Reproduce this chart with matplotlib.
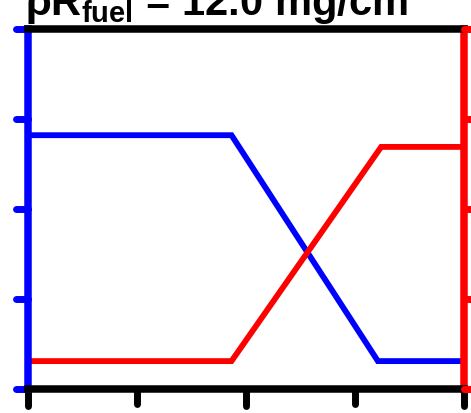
import matplotlib
matplotlib.use("Agg")
import matplotlib.pyplot as plt
from matplotlib.markers import MarkerStyle

plt.rcParams["mathtext.fontset"] = "custom"
plt.rcParams["mathtext.rm"] = "Liberation Sans:bold"
plt.rcParams["mathtext.it"] = "Liberation Sans:bold"
plt.rcParams["mathtext.bf"] = "Liberation Sans:bold"
plt.rcParams["mathtext.sf"] = "Liberation Sans:bold"

# Data
x_blue = [0.0, 1.867, 3.21, 4.0]
y_blue = [2.82, 2.82, 0.31, 0.31]
x_red = [0.0, 1.867, 3.24, 4.0]
y_red = [0.31, 0.31, 2.69, 2.69]
x_ticks_major = [0, 2, 4]
x_ticks_minor = [1, 3]
y_ticks = [0, 1, 2, 3, 4]
title_main = r"$\mathrm{\rho R_{fuel}}$ = 12.0 mg/cm$^\mathrm{2}$"

W, H = 471, 414
fig = plt.figure(figsize=(W / 100, H / 100), dpi=100)
ax = fig.add_axes([28 / W, (H - 390) / H, (464 - 28) / W, (390 - 30) / H])

ax.plot(x_blue, y_blue, color="#0000ff", lw=4.2, solid_joinstyle="miter", zorder=3, clip_on=False)
ax.plot(x_red, y_red, color="#ff0000", lw=4.2, solid_joinstyle="miter", zorder=3, clip_on=False)

ax.set_xlim(0, 4)
ax.set_ylim(0, 4)
ax.set_xticks(x_ticks_major)
ax.set_xticks(x_ticks_minor, minor=True)
ax.set_yticks(y_ticks)
ax.set_xticklabels([])
ax.set_yticklabels([])

sw = 5.4
for s in ["top", "bottom"]:
    ax.spines[s].set_color("black")
    ax.spines[s].set_linewidth(sw)
ax.spines["left"].set_color("#0000ff")
ax.spines["left"].set_linewidth(sw)
ax.spines["right"].set_color("#ff0000")
ax.spines["right"].set_linewidth(sw)
for s in ax.spines.values():
    s.set_capstyle("projecting")
    s.set_zorder(4)

ax.tick_params(axis="x", which="major", direction="out", length=12.5, width=5, color="black")
ax.tick_params(axis="x", which="minor", direction="out", length=10.5, width=5, color="black")
ax.tick_params(axis="y", which="major", direction="out", length=9, width=5, color="#0000ff", right=False)

ax2 = ax.twinx()
ax2.set_ylim(0, 4)
ax2.set_yticks(y_ticks)
ax2.set_yticklabels([])
for s in ax2.spines.values():
    s.set_visible(False)
ax2.tick_params(axis="y", direction="out", length=9, width=5, color="#ff0000")

for a in (ax, ax2):
    for tl in a.xaxis.get_ticklines() + a.xaxis.get_ticklines(minor=True) + a.yaxis.get_ticklines():
        tl.set_marker(MarkerStyle(tl.get_marker(), capstyle="round"))

fig.text(25 / W, 1 - 16 / H, title_main, fontsize=30, fontweight="bold",
         family="Liberation Sans", ha="left", va="baseline")

fig.savefig("out.png", dpi=100)
